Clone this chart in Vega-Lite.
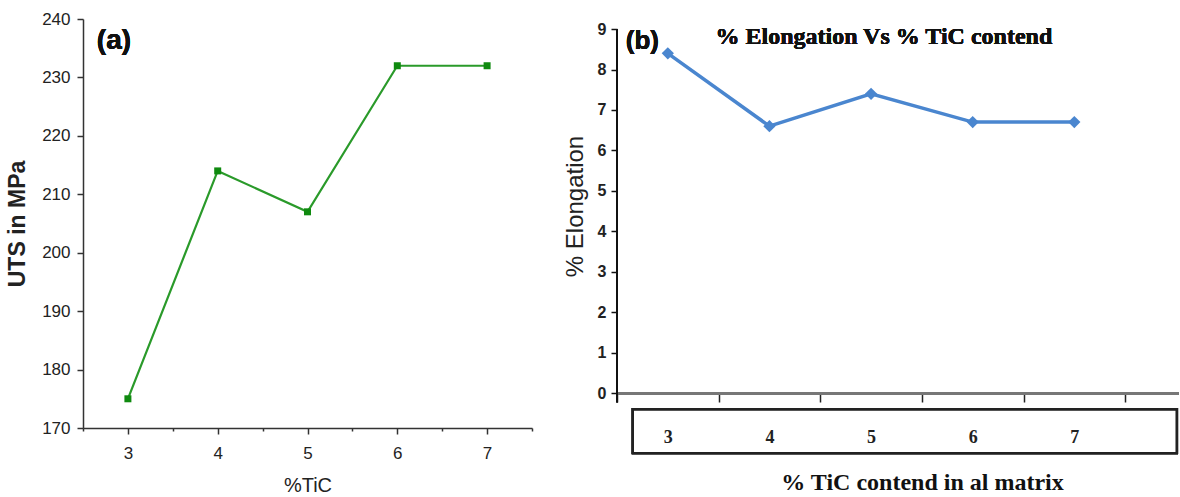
{
  "$schema": "https://vega.github.io/schema/vega-lite/v6.json",
  "background": "white",
  "padding": {"left": 6, "top": 10, "right": 0, "bottom": 0},
  "datasets": {
    "uts": [
      {"tic": 3, "uts": 175},
      {"tic": 4, "uts": 214},
      {"tic": 5, "uts": 207},
      {"tic": 6, "uts": 232},
      {"tic": 7, "uts": 232}
    ],
    "elong": [
      {"tic": 3, "elong": 8.4},
      {"tic": 4, "elong": 6.6},
      {"tic": 5, "elong": 7.4},
      {"tic": 6, "elong": 6.7},
      {"tic": 7, "elong": 6.7}
    ]
  },
  "config": {"view": {"stroke": null}, "axis": {"grid": false}},
  "bounds": "flush",
  "spacing": 85,
  "hconcat": [
    {
      "width": 449,
      "height": 409,
      "data": {"name": "uts"},
      "layer": [
        {
          "mark": {"type": "line", "color": "#2a9a2a", "strokeWidth": 2.2},
          "encoding": {
            "x": {
              "field": "tic", "type": "quantitative",
              "scale": {"domain": [2.5, 7.5], "nice": false, "zero": false},
              "axis": {
                "title": "%TiC",
                "values": [2.5, 3, 3.5, 4, 4.5, 5, 5.5, 6, 6.5, 7, 7.5],
                "labelExpr": "datum.value % 1 === 0 ? '' + datum.value : ''",
                "labelOverlap": false,
                "tickSize": {"condition": {"test": "datum.value % 1 !== 0", "value": 3}, "value": 6},
                "tickColor": "#333", "tickWidth": 1.5,
                "domainColor": "#333", "domainWidth": 1.5,
                "labelFont": "Liberation Sans",
                "labelFontSize": 17, "labelColor": "#222", "labelPadding": 11,
                "titleFont": "Liberation Sans",
                "titleFontSize": 20, "titleFontWeight": "normal", "titleColor": "#222",
                "titlePadding": 14
              }
            },
            "y": {
              "field": "uts", "type": "quantitative",
              "scale": {"domain": [170, 240], "nice": false, "zero": false},
              "axis": {
                "title": "UTS in MPa",
                "values": [170, 175, 180, 185, 190, 195, 200, 205, 210, 215, 220, 225, 230, 235, 240],
                "labelExpr": "datum.value % 10 === 0 ? '' + datum.value : ''",
                "labelOverlap": false,
                "tickSize": {"condition": {"test": "datum.value % 10 !== 0", "value": 3}, "value": 6},
                "tickColor": "#333", "tickWidth": 1.5,
                "domainColor": "#333", "domainWidth": 1.5,
                "labelFont": "Liberation Sans",
                "labelFontSize": 17, "labelColor": "#222", "labelPadding": 7,
                "titleFont": "Liberation Sans",
                "titleFontSize": 23, "titleFontWeight": "bold", "titleColor": "#222",
                "titlePadding": 12
              }
            }
          }
        },
        {
          "mark": {"type": "square", "color": "#0f8a0f", "size": 49, "opacity": 1},
          "encoding": {
            "x": {"field": "tic", "type": "quantitative"},
            "y": {"field": "uts", "type": "quantitative"}
          }
        },
        {
          "mark": {"type": "text", "text": "(a)", "font": "Liberation Sans", "fontSize": 28, "fontWeight": "bold", "color": "#111", "align": "center", "baseline": "middle"},
          "encoding": {
            "x": {"datum": 2.845},
            "y": {"datum": 236.3}
          }
        }
      ]
    },
    {
      "width": 562,
      "height": 374,
      "data": {"name": "elong"},
      "layer": [
        {
          "mark": {"type": "line", "color": "#4a86cf", "strokeWidth": 3.5},
          "encoding": {
            "x": {
              "field": "tic", "type": "quantitative",
              "scale": {"domain": [2.5, 8.03], "nice": false, "zero": false},
              "axis": {
                "title": "% TiC contend in al matrix",
                "values": [2.5, 3, 3.5, 4, 4.5, 5, 5.5, 6, 6.5, 7, 7.5],
                "labelExpr": "datum.value % 1 === 0 ? '' + datum.value : ''",
                "labelOverlap": false,
                "tickSize": 9,
                "tickOpacity": {"condition": {"test": "datum.value % 1 === 0", "value": 0}, "value": 1},
                "tickColor": "#222", "tickWidth": 1.5,
                "domainColor": "#777", "domainWidth": 3,
                "labelFont": "Liberation Serif",
                "labelFontSize": 18, "labelFontWeight": "bold", "labelColor": "#222", "labelPadding": 26,
                "titleFont": "Liberation Serif",
                "titleFontSize": 24, "titleFontWeight": "bold", "titleColor": "#111",
                "titlePadding": 24,
                "titleX": 305
              }
            },
            "y": {
              "field": "elong", "type": "quantitative",
              "scale": {"domain": [0, 9.25], "nice": false, "zero": false},
              "axis": {
                "title": "% Elongation",
                "values": [0, 1, 2, 3, 4, 5, 6, 7, 8, 9],
                "domain": false,
                "tickSize": 6, "tickColor": "#111", "tickWidth": 1.5,
                "labelFont": "Liberation Sans",
                "labelFontSize": 16, "labelFontWeight": "bold", "labelColor": "#222", "labelPadding": 5,
                "titleFont": "Liberation Sans",
                "titleFontSize": 24, "titleFontWeight": "normal", "titleColor": "#222",
                "titlePadding": 10
              }
            }
          }
        },
        {
          "mark": {"type": "point", "shape": "diamond", "filled": true, "size": 150, "color": "#4a86cf", "opacity": 1},
          "encoding": {
            "x": {"field": "tic", "type": "quantitative"},
            "y": {"field": "elong", "type": "quantitative"}
          }
        },
        {
          "mark": {"type": "rule", "color": "#111", "strokeWidth": 2},
          "encoding": {
            "x": {"datum": 2.5},
            "y": {"datum": -0.23},
            "y2": {"datum": 9}
          }
        },
        {
          "mark": {"type": "rect", "filled": false, "stroke": "#222", "strokeWidth": 2.2},
          "encoding": {
            "x": {"datum": 2.655},
            "x2": {"datum": 8.01},
            "y": {"datum": -0.4},
            "y2": {"datum": -1.49}
          }
        },
        {
          "mark": {"type": "text", "text": "(b)", "font": "Liberation Sans", "fontSize": 26, "fontWeight": "bold", "color": "#111", "align": "center", "baseline": "middle"},
          "encoding": {
            "x": {"datum": 2.75},
            "y": {"datum": 8.71}
          }
        },
        {
          "mark": {"type": "text", "text": "% Elongation Vs % TiC contend", "font": "Liberation Serif", "fontSize": 24, "fontWeight": "bold", "color": "#111", "align": "center", "baseline": "middle"},
          "encoding": {
            "x": {"datum": 5.126},
            "y": {"datum": 8.81}
          }
        }
      ]
    }
  ]
}
